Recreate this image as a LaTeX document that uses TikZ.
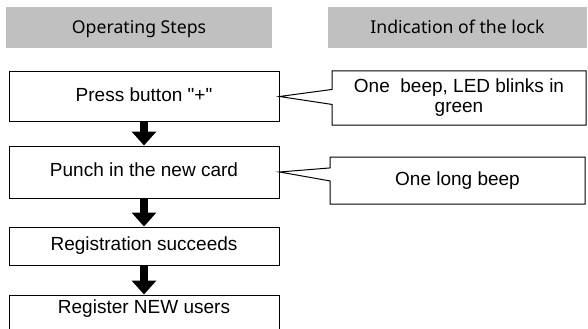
\documentclass[tikz,border=0pt]{standalone}
\usepackage{fontspec}
\setmainfont{Liberation Sans}
\newfontfamily\headfont{Noto Sans}
\usetikzlibrary{arrows.meta}
\usetikzlibrary{shapes.callouts}

\definecolor{headgray}{RGB}{192,192,192}

\begin{document}
\begin{tikzpicture}[
	x=0.75pt, y=-0.75pt,
	header/.style={fill=headgray, inner sep=0pt, minimum height=41*0.75pt, text height=0.85em, text depth=0pt, font=\headfont\fontsize{13.25}{15}\selectfont},
	stepbox/.style={draw, line width=0.75pt, inner sep=0pt, minimum width=270*0.75pt, text height=0.716em, text depth=0pt, font=\fontsize{14.25}{15}\selectfont},
	lockcall/.style={rectangle callout, draw, line width=0.75pt, inner sep=0pt, align=center, font=\fontsize{14.25}{15}\selectfont},
	flow/.style={line width=6pt, -{Triangle[width=18pt, length=10.5pt]}}
	]

	\clip (0,0) rectangle (588,328);

	% column titles
	\node[header, minimum width=266*0.75pt] (stepsTitle) at (139,27.5) {Operating Steps};
	\node[header, minimum width=259*0.75pt] (lockTitle) at (457.5,27.5) {Indication of the lock};

	% operating steps
	\node[stepbox, minimum height=49*0.75pt] (press) at (144,96.5) {Press button \textquotedbl+\textquotedbl};
	\node[stepbox, minimum height=52*0.75pt] (punch) at (144,172) {Punch in the new card};
	\node[stepbox, minimum height=38*0.75pt] (success) at (144,246) {Registration succeeds};
	\node[stepbox, minimum height=36*0.75pt, text depth=0.65em] (newUsers) at (144,313) {Register NEW users}; % runs off the bottom

	\draw[flow] (press) -- (punch);
	\draw[flow] (punch) -- (success);
	\draw[flow] (success) -- (newUsers);

	% what the lock does
	\node[lockcall, minimum width=254*0.75pt, minimum height=54*0.75pt,
		callout absolute pointer={(press.east)}, callout pointer width=15*0.75pt]
		(beepGreen) at (459,98) {One\ \ beep, LED blinks in\\green};
	\node[lockcall, minimum width=255*0.75pt, minimum height=47*0.75pt, text height=0.716em, text depth=0pt,
		callout absolute pointer={(punch.east)}, callout pointer width=13*0.75pt]
		(longBeep) at (457.5,180.5) {One long beep};

\end{tikzpicture}
\end{document}
